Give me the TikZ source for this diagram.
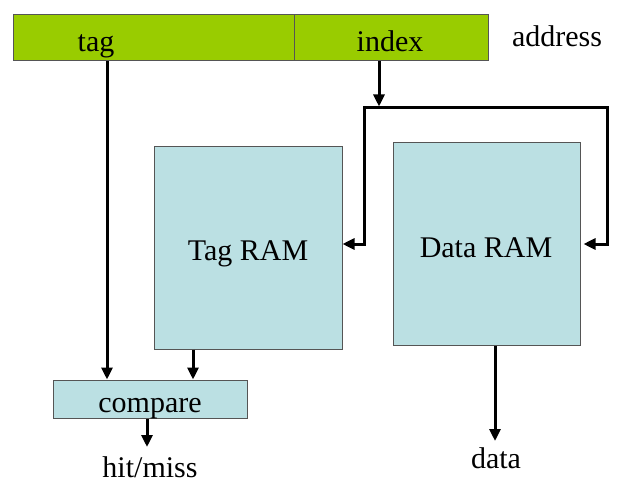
\documentclass[tikz,border=0pt]{standalone}
\usepackage{fontspec}
\setmainfont{Liberation Serif}
\usetikzlibrary{arrows.meta}
\definecolor{fieldgreen}{HTML}{99CC00}
\definecolor{ramblue}{HTML}{BBE0E3}
\definecolor{edgegray}{HTML}{555555}
\begin{document}
\begin{tikzpicture}[x=1pt,y=-1pt,
  field/.style={draw=edgegray,line width=1pt,fill=fieldgreen,minimum height=46pt,inner sep=0pt},
  ram/.style={draw=edgegray,line width=1pt,fill=ramblue,inner sep=0pt},
  lbl/.style={font=\fontsize{30}{33}\selectfont,inner sep=0pt,anchor=base},
  arr/.style={line width=3pt,-{Triangle[length=12pt,width=11pt]}},
  wire/.style={line width=3pt}]
\useasboundingbox (0,0) rectangle (617,494);
% address fields
\node[field,minimum width=281pt] (tagf) at (153.5,38) {};
\node[field,minimum width=194pt] (idxf) at (391,38) {};
\node[lbl] (tagt) at (96,52) {tag};
\node[lbl] (idxt) at (390,52) {index};
\node[lbl] (addr) at (557,47) {address};
% RAMs
\node[ram,minimum width=188pt,minimum height=202pt] (tagram) at (248,248) {};
\node[lbl] (tagramt) at (248,260) {Tag RAM};
\node[ram,minimum width=187pt,minimum height=202pt] (dataram) at (486.5,244) {};
\node[lbl] (dataramt) at (486,257) {Data RAM};
% compare
\node[ram,minimum width=194pt,minimum height=38pt] (cmp) at (150,399) {};
\node[lbl] (cmpt) at (150,412) {compare};
\node[lbl] (hit) at (150,477) {hit/miss};
\node[lbl] (data) at (496,468) {data};
% coordinates
\coordinate (tx) at (107,0);
\coordinate (trx) at (193,0);
\coordinate (cx) at (147,0);
\coordinate (dx) at (495,0);
\coordinate (ix) at (379,108);
\coordinate (bl) at (364,108);
\coordinate (br) at (607,108);
\coordinate (hitend) at (147,447);
\coordinate (dataend) at (495,441);
% connectors
\draw[arr] (tagf.south -| tx) -- (cmp.north -| tx);
\draw[arr] (tagram.south -| trx) -- (cmp.north -| trx);
\draw[arr] (cmp.south -| cx) -- (hitend);
\draw[arr] (dataram.south -| dx) -- (dataend);
\draw[wire] (bl) -- (br);
\draw[arr] (idxf.south -| ix) -- ([yshift=1.5pt]ix);
\draw[arr] ([yshift=1.5pt]bl) |- ([yshift=4pt]tagram.east);
\draw[arr] ([yshift=1.5pt]br) |- ([xshift=3pt]dataram.east);
\end{tikzpicture}
\end{document}
